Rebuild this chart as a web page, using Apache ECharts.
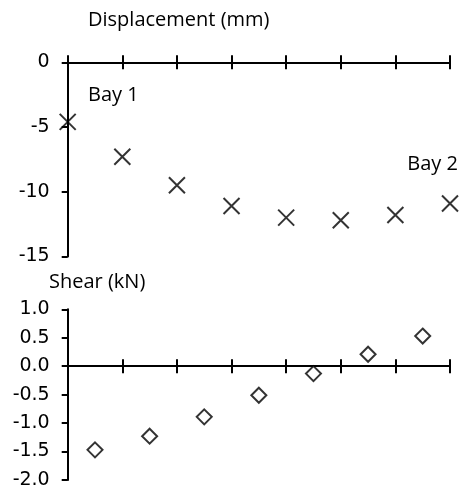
<!DOCTYPE html>
<html>
<head>
<meta charset="utf-8">
<script src="https://cdn.jsdelivr.net/npm/echarts@6/dist/echarts.min.js"></script>
<style>html,body{margin:0;padding:0;background:#fff;}#c{width:459px;height:494px;}</style>
</head>
<body>
<div id="c"></div>
<script>
// Data
var nodePositions = [0, 1, 2, 3, 4, 5, 6, 7];
var displacement = [-4.6, -7.3, -9.5, -11.1, -12.0, -12.2, -11.8, -10.9];
var midPositions = [0.5, 1.5, 2.5, 3.5, 4.5, 5.5, 6.5];
var shear = [-1.47, -1.23, -0.89, -0.51, -0.13, 0.21, 0.53];
var dispTicks = [0, -5, -10, -15];
var shearTicks = ['1.0', '0.5', '0.0', '-0.5', '-1.0', '-1.5', '-2.0'];
var titles = { disp: 'Displacement (mm)', shear: 'Shear (kN)', bay1: 'Bay 1', bay2: 'Bay 2' };

var chart = echarts.init(document.getElementById('c'), null, { renderer: 'canvas' });
var labelFont = { color: '#000', fontFamily: 'DejaVu Sans', fontSize: 19 };
var textFont = '20px "Open Sans"';

function xAxisPair(grid, yIndex) {
  function make(pos) {
    return {
      gridIndex: grid, type: 'value', min: 0, max: 7, interval: 1, position: pos,
      axisLine: { show: true, onZero: true, onZeroAxisIndex: yIndex, lineStyle: { color: '#000', width: 2 } },
      axisTick: { show: true, inside: false, length: 7, lineStyle: { color: '#000', width: 2 } },
      axisLabel: { show: false }, splitLine: { show: false }
    };
  }
  return [make('top'), make('bottom')];
}

var xs = xAxisPair(0, 0).concat(xAxisPair(1, 1));

var crossPath = 'path://M0,0L10,10M10,0L0,10';

chart.setOption({
  animation: false,
  backgroundColor: '#fff',
  grid: [
    { left: 67.7, right: 9, top: 62.3, height: 194.2 },
    { left: 67.7, right: 9, top: 309.3, height: 170.7 }
  ],
  xAxis: xs,
  yAxis: [
    {
      gridIndex: 0, type: 'value', min: -15, max: 0, interval: 5,
      axisLine: { show: true, onZero: false, lineStyle: { color: '#000', width: 2 } },
      axisTick: { show: true, length: 6, lineStyle: { color: '#000', width: 2 } },
      axisLabel: Object.assign({ margin: 18, formatter: function (v) { return String(v); } }, labelFont),
      splitLine: { show: false }
    },
    {
      gridIndex: 1, type: 'value', min: -2, max: 1, interval: 0.5,
      axisLine: { show: true, onZero: false, lineStyle: { color: '#000', width: 2 } },
      axisTick: { show: true, length: 6, lineStyle: { color: '#000', width: 2 } },
      axisLabel: Object.assign({ margin: 18, formatter: function (v) { return v.toFixed(1); } }, labelFont),
      splitLine: { show: false }
    }
  ],
  series: [
    {
      type: 'scatter', xAxisIndex: 0, yAxisIndex: 0, clip: false,
      symbol: crossPath, symbolSize: 16,
      itemStyle: { color: 'transparent', borderColor: '#000', borderWidth: 2 },
      data: nodePositions.map(function (x, i) { return [x, displacement[i]]; }),
      z: 5
    },
    {
      type: 'scatter', xAxisIndex: 2, yAxisIndex: 1, clip: false,
      symbol: 'diamond', symbolSize: 15,
      itemStyle: { color: '#fff', borderColor: '#000', borderWidth: 2 },
      data: midPositions.map(function (x, i) { return [x, shear[i]]; }),
      z: 5
    }
  ],
  graphic: [
    { type: 'text', left: 88, top: 10, style: { text: titles.disp, font: textFont, fill: '#000' } },
    { type: 'text', left: 88, top: 85, style: { text: titles.bay1, font: textFont, fill: '#000' } },
    { type: 'text', right: 1, top: 154, style: { text: titles.bay2, font: textFont, fill: '#000' } },
    { type: 'text', left: 49, top: 272, style: { text: titles.shear, font: textFont, fill: '#000' } }
  ]
});
</script>
</body>
</html>
